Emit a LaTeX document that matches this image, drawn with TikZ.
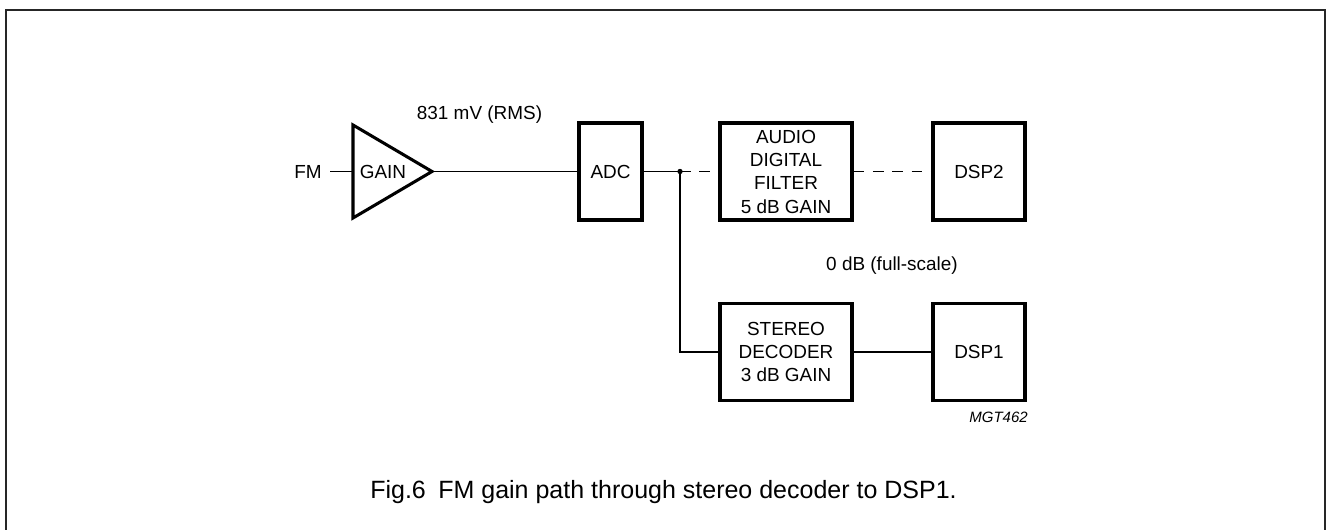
\documentclass[tikz,border=0pt]{standalone}
\usepackage{fontspec}
\setmainfont{Liberation Sans}
\begin{document}
\begin{tikzpicture}[x=0.75pt,y=-0.75pt,
  blk/.style={draw,line width=2.3pt,inner sep=0pt,align=center,
    font=\fontsize{14.2pt}{17.5pt}\selectfont,minimum height=72.75pt},
  lbl/.style={inner sep=0pt,font=\fontsize{14.2pt}{17.5pt}\selectfont},
  wire/.style={line width=1pt},
  dashwire/.style={line width=1pt,dash pattern=on 8pt off 6.5pt},
  frame/.style={line width=1.6pt,draw=black!85}]
\useasboundingbox (0,0) rectangle (1327,530);
\draw[frame] (6,532) -- (6,10) -- (1325,10) -- (1325,532);
% amplifier
\coordinate (gin) at (353,171.5);
\coordinate (gtip) at (432,171.5);
\draw[line width=2.3pt] (353,125) -- (gtip) -- (353,218) -- cycle;
\node[lbl] (gain) at (383,171.5) {GAIN};
\node[lbl,anchor=east] (fm) at (322,171.5) {FM};
% blocks
\node[blk,minimum width=47.25pt] (adc) at (610.5,171.5) {ADC};
\node[blk,minimum width=99pt] (adf) at (786,171.5) {AUDIO\\DIGITAL\\FILTER\\5 dB GAIN};
\node[blk,minimum width=69pt] (dsp2) at (979,171.5) {DSP2};
\node[blk,minimum width=99pt] (sd) at (786,352) {STEREO\\DECODER\\3 dB GAIN};
\node[blk,minimum width=69pt] (dsp1) at (979,352) {DSP1};
\node[circle,fill,inner sep=0pt,minimum size=4pt] (j) at (680,171.5) {};
% connectors
\draw[wire] ([xshift=6pt]fm.east) -- (gin);
\draw[wire] (gtip) -- (adc.west);
\draw[wire] (adc.east) -- (j.center);
\draw[dashwire] (j.center) -- (adf.west);
\draw[dashwire] (adf.east) -- (dsp2.west);
\draw[wire] (j.center) |- (sd.west);
\draw[wire] (sd.east) -- (dsp1.west);
% labels
\node[lbl] (rms) at (479.5,115) {831 mV (RMS)};
\node[lbl] (fs) at (892,266) {0 dB (full-scale)};
\node[inner sep=0pt,anchor=east,font=\fontsize{11.25pt}{13pt}\selectfont\itshape] (code) at (1028,417) {MGT462};
\node[inner sep=0pt,anchor=base,font=\fontsize{18.75pt}{22pt}\selectfont] (cap) at (663.5,498) {Fig.6\hspace{0.5em}FM gain path through stereo decoder to DSP1.};
\end{tikzpicture}
\end{document}
